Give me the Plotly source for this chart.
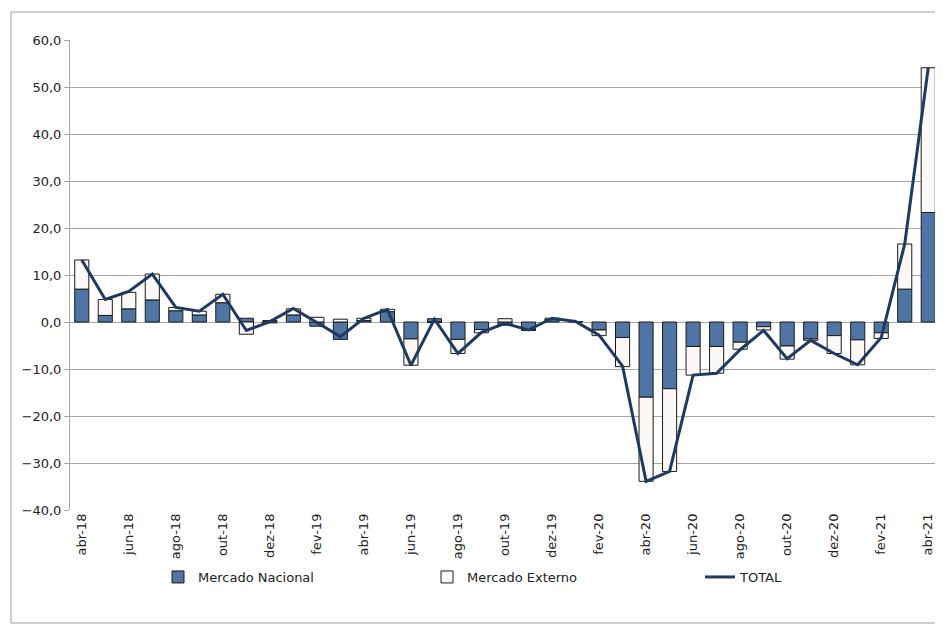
import plotly.graph_objects as go

categories = [
    "abr-18", "mai-18", "jun-18", "jul-18", "ago-18", "set-18", "out-18", "nov-18", "dez-18",
    "jan-19", "fev-19", "mar-19", "abr-19", "mai-19", "jun-19", "jul-19", "ago-19", "set-19",
    "out-19", "nov-19", "dez-19", "jan-20", "fev-20", "mar-20", "abr-20", "mai-20", "jun-20",
    "jul-20", "ago-20", "set-20", "out-20", "nov-20", "dez-20", "jan-21", "fev-21", "mar-21",
    "abr-21",
]

mercado_nacional = [
    7.0, 1.4, 2.8, 4.7, 2.4, 1.5, 4.1, 0.8, 0.3,
    1.5, -0.9, -3.7, 0.3, 2.2, -3.6, 0.7, -3.7, -1.6,
    -0.7, -1.7, 0.5, 0.1, -1.7, -3.3, -16.0, -14.2, -5.2,
    -5.2, -4.3, -1.0, -5.1, -3.6, -2.9, -3.8, -2.3, 7.0,
    23.3,
]

mercado_externo = [
    6.2, 3.4, 3.5, 5.5, 0.7, 0.8, 1.8, -2.6, -0.2,
    1.3, 1.0, 0.6, 0.5, 0.5, -5.6, -0.1, -3.0, -0.7,
    0.7, -0.1, 0.3, 0.0, -1.2, -6.2, -17.9, -17.6, -6.1,
    -5.7, -1.5, -0.7, -2.8, -0.3, -3.8, -5.3, -1.2, 9.6,
    30.8,
]

total = [
    13.2, 4.8, 6.5, 10.2, 3.1, 2.3, 5.9, -1.8, 0.1,
    2.9, -0.1, -3.1, 0.8, 2.7, -9.2, 0.6, -6.7, -2.2,
    -0.3, -1.7, 0.8, 0.1, -2.8, -9.4, -33.9, -31.8, -11.3,
    -10.9, -5.9, -1.8, -7.8, -3.9, -6.7, -9.1, -3.3, 16.6,
    54.1,
]

tick_labels = categories[::2]
y_ticks = [-40, -30, -20, -10, 0, 10, 20, 30, 40, 50, 60]

FONT = "DejaVu Sans"
BLUE = "#4F75A5"
NAVY = "#1F3A60"
GRID = "#A6A6A6"
TXT = "#222222"

# page body has an 8px margin, so the figure is drawn 8px in from the window edges
W, H = 935, 616
L, R, T, B = 62, 3, 32, 114
pw, ph = W - L - R, H - T - B


def px_x(window_x):
    return (window_x - 8 - L) / pw


legend_y = -(577 - 510) / ph

fig = go.Figure()
fig.add_trace(go.Bar(
    x=categories, y=mercado_nacional, name="Mercado Nacional", legend="legend",
    marker=dict(color=BLUE, line=dict(color="#1A1A1A", width=1)),
))
fig.add_trace(go.Bar(
    x=categories, y=mercado_externo, name="Mercado Externo", legend="legend2",
    marker=dict(color="#FBF8F6", line=dict(color="#1A1A1A", width=1)),
))
fig.add_trace(go.Scatter(
    x=categories, y=total, name="TOTAL", mode="lines", legend="legend3",
    line=dict(color=NAVY, width=3),
))

legend_common = dict(
    orientation="h", xanchor="left", y=legend_y, yanchor="middle",
    bgcolor="rgba(0,0,0,0)", font=dict(family=FONT, size=13, color=TXT),
)

fig.update_layout(
    width=W, height=H, autosize=False,
    barmode="relative", bargap=0.4,
    separators=", ",
    paper_bgcolor="white", plot_bgcolor="white",
    margin=dict(l=L, r=R, t=T, b=B, pad=0),
    font=dict(family=FONT, size=13, color=TXT),
    showlegend=True,
    legend=dict(x=px_x(158), **legend_common),
    legend2=dict(x=px_x(427), **legend_common),
    legend3=dict(x=px_x(700), **legend_common),
    xaxis=dict(
        type="category", tickmode="array", tickvals=tick_labels, ticktext=tick_labels,
        tickangle=-90, showgrid=False, showline=False, ticks="",
        tickfont=dict(family=FONT, size=13, color=TXT),
    ),
    yaxis=dict(
        range=[-40, 60], tickvals=y_ticks, tickformat=".1f",
        showgrid=True, gridcolor=GRID, gridwidth=1,
        zeroline=True, zerolinecolor=GRID, zerolinewidth=1,
        showline=True, linecolor=GRID, linewidth=1,
        ticks="outside", ticklen=5, tickcolor=GRID,
        tickfont=dict(family=FONT, size=13, color=TXT),
    ),
    shapes=[dict(
        type="rect", xref="paper", yref="paper",
        x0=px_x(11), x1=px_x(942),
        y0=-(623 - 510) / ph, y1=(510 - 12) / ph,
        line=dict(color="#A0A0A0", width=1), fillcolor="rgba(0,0,0,0)", layer="below",
    )],
)

fig.write_html("out.html")
